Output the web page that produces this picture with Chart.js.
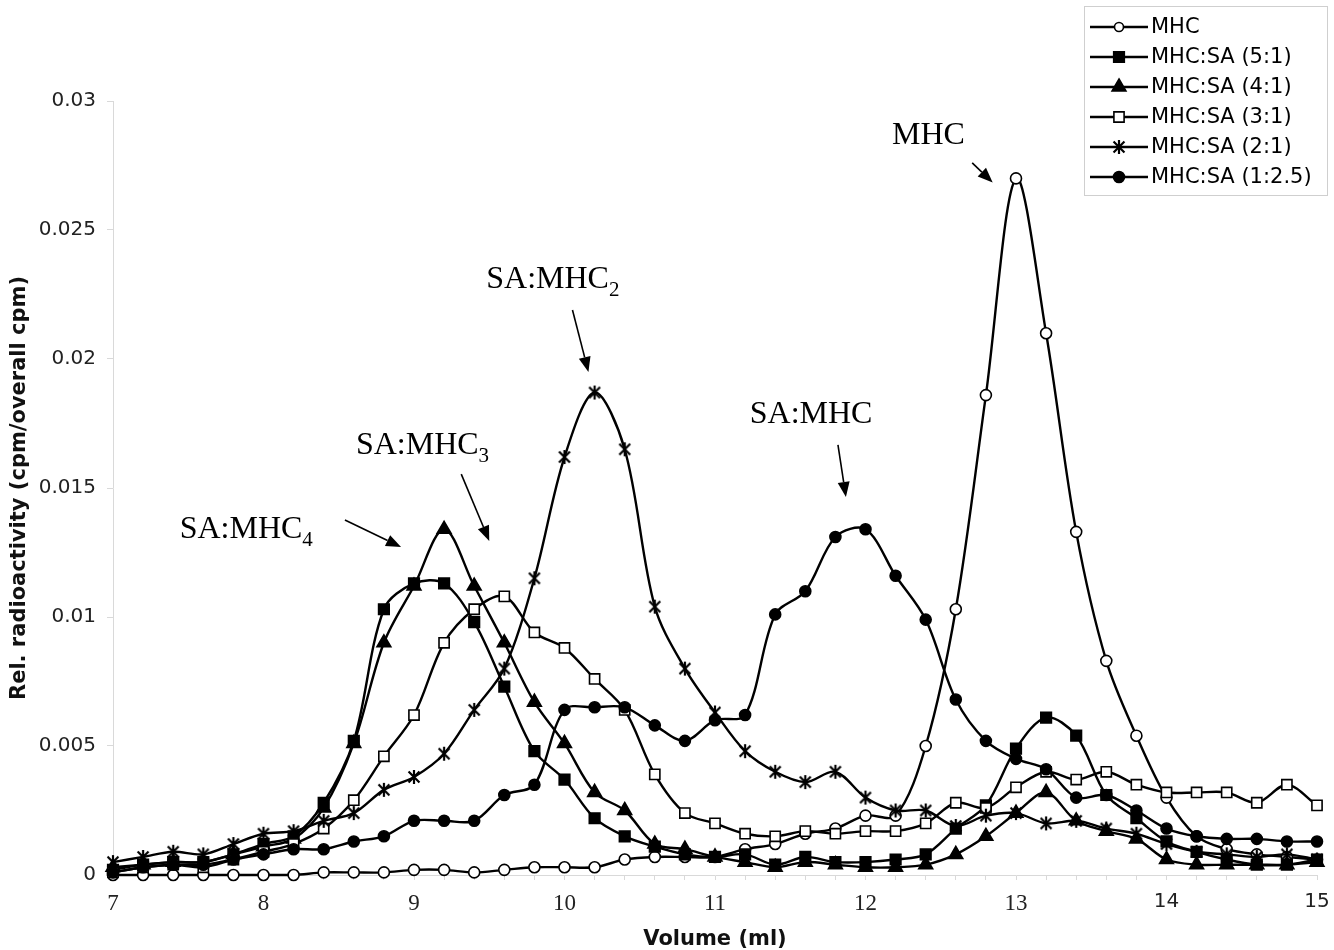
<!DOCTYPE html>
<html>
<head>
<meta charset="utf-8">
<script src="https://cdn.jsdelivr.net/npm/chart.js@4"></script>
<style>
html, body { margin: 0; padding: 0; background: #fff; }
#wrap { width: 1334px; height: 950px; }
</style>
</head>
<body>
<div id="wrap"><canvas id="chart" width="1334" height="950"></canvas></div>
<script>
// elution volume (ml), one fraction every 0.2 ml
const volumes = [7.0, 7.2, 7.4, 7.6, 7.8, 8.0, 8.2, 8.4, 8.6, 8.8, 9.0, 9.2, 9.4, 9.6, 9.8,
    10.0, 10.2, 10.4, 10.6, 10.8, 11.0, 11.2, 11.4, 11.6, 11.8, 12.0, 12.2, 12.4, 12.6, 12.8,
    13.0, 13.2, 13.4, 13.6, 13.8, 14.0, 14.2, 14.4, 14.6, 14.8, 15.0];

const seriesNames = ['MHC', 'MHC:SA (5:1)', 'MHC:SA (4:1)', 'MHC:SA (3:1)', 'MHC:SA (2:1)', 'MHC:SA (1:2.5)'];

const mhc = [0, 0, 0, 0, 0, 0, 0, 0.0001, 0.0001, 0.0001, 0.0002, 0.0002, 0.0001, 0.0002, 0.0003,
    0.0003, 0.0003, 0.0006, 0.0007, 0.0007, 0.0007, 0.0010, 0.0012, 0.0016, 0.0018, 0.0023, 0.0023,
    0.0050, 0.0103, 0.0186, 0.0270, 0.0210, 0.0133, 0.0083, 0.0054, 0.0030, 0.0015, 0.0010, 0.0008,
    0.0007, 0.0006];
const mhcSa51 = [0.0002, 0.0004, 0.0005, 0.0005, 0.0008, 0.0012, 0.0015, 0.0028, 0.0052, 0.0103,
    0.0113, 0.0113, 0.0098, 0.0073, 0.0048, 0.0037, 0.0022, 0.0015, 0.0011, 0.0008, 0.0007, 0.0008,
    0.0004, 0.0007, 0.0005, 0.0005, 0.0006, 0.0008, 0.0018, 0.0027, 0.0049, 0.0061, 0.0054, 0.0031,
    0.0022, 0.0013, 0.0009, 0.0006, 0.0004, 0.0004, 0.0006];
const mhcSa41 = [0.0003, 0.0004, 0.0005, 0.0005, 0.0008, 0.0011, 0.0014, 0.0026, 0.0051, 0.0090,
    0.0112, 0.0134, 0.0112, 0.0090, 0.0067, 0.0051, 0.0032, 0.0025, 0.0012, 0.0010, 0.0007, 0.0005,
    0.0003, 0.0005, 0.0004, 0.0003, 0.0003, 0.0004, 0.0008, 0.0015, 0.0024, 0.0032, 0.0021, 0.0017,
    0.0014, 0.0006, 0.0004, 0.0004, 0.0004, 0.0004, 0.0005];
const mhcSa31 = [0.0001, 0.0003, 0.0004, 0.0003, 0.0006, 0.0009, 0.0012, 0.0018, 0.0029, 0.0046,
    0.0062, 0.0090, 0.0103, 0.0108, 0.0094, 0.0088, 0.0076, 0.0064, 0.0039, 0.0024, 0.0020, 0.0016,
    0.0015, 0.0017, 0.0016, 0.0017, 0.0017, 0.0020, 0.0028, 0.0026, 0.0034, 0.0040, 0.0037, 0.0040,
    0.0035, 0.0032, 0.0032, 0.0032, 0.0028, 0.0035, 0.0027];
const mhcSa21 = [0.0005, 0.0007, 0.0009, 0.0008, 0.0012, 0.0016, 0.0017, 0.0021, 0.0024, 0.0033,
    0.0038, 0.0047, 0.0064, 0.0080, 0.0115, 0.0162, 0.0187, 0.0165, 0.0104, 0.0080, 0.0063, 0.0048,
    0.0040, 0.0036, 0.0040, 0.0030, 0.0025, 0.0025, 0.0019, 0.0023, 0.0024, 0.0020, 0.0021, 0.0018,
    0.0016, 0.0012, 0.0009, 0.0008, 0.0007, 0.0008, 0.0006];
const mhcSa125 = [0.0001, 0.0003, 0.0004, 0.0004, 0.0006, 0.0008, 0.0010, 0.0010, 0.0013, 0.0015,
    0.0021, 0.0021, 0.0021, 0.0031, 0.0035, 0.0064, 0.0065, 0.0065, 0.0058, 0.0052, 0.0060, 0.0062,
    0.0101, 0.0110, 0.0131, 0.0134, 0.0116, 0.0099, 0.0068, 0.0052, 0.0045, 0.0041, 0.0030, 0.0031,
    0.0025, 0.0018, 0.0015, 0.0014, 0.0014, 0.0013, 0.0013];

const yTicks = [0, 0.005, 0.01, 0.015, 0.02, 0.025, 0.03];

// peak labels: text, subscript, position of text (x, y) and arrow tail -> head
const peakLabels = [
    { text: 'MHC', sub: '', x: 12.176, y: 0.02833, from: [12.709, 0.0276], to: [12.845, 0.02684] },
    { text: 'SA:MHC', sub: '2', x: 9.48, y: 0.02275, from: [10.053, 0.0219], to: [10.159, 0.0195] },
    { text: 'SA:MHC', sub: '', x: 11.231, y: 0.01752, from: [11.817, 0.01667], to: [11.87, 0.01465] },
    { text: 'SA:MHC', sub: '3', x: 8.614, y: 0.01632, from: [9.314, 0.01554], to: [9.5, 0.01295] },
    { text: 'SA:MHC', sub: '4', x: 7.443, y: 0.01306, from: [8.541, 0.01376], to: [8.914, 0.01271] }
];

function makeAsterisk(size, lw) {
    const c = document.createElement('canvas');
    c.width = size;
    c.height = size;
    const g = c.getContext('2d');
    const m = size / 2, r = size / 2 - 1, d = r * 0.78;
    g.strokeStyle = '#000';
    g.lineWidth = lw;
    g.beginPath();
    g.moveTo(m, m - r); g.lineTo(m, m + r);
    g.moveTo(m - d, m - d); g.lineTo(m + d, m + d);
    g.moveTo(m + d, m - d); g.lineTo(m - d, m + d);
    g.stroke();
    return c;
}
const asterisk = makeAsterisk(16, 2.2);

const markers = [
    { pointStyle: 'circle', radius: 5.5, fill: '#fff' },
    { pointStyle: 'rect', radius: 7.5, fill: '#000' },
    { pointStyle: 'triangle', radius: 8, fill: '#000' },
    { pointStyle: 'rect', radius: 7.2, fill: '#fff' },
    { pointStyle: asterisk, radius: 8, fill: '#000' },
    { pointStyle: 'circle', radius: 5.5, fill: '#000' }
];

const allSeries = [mhc, mhcSa51, mhcSa41, mhcSa31, mhcSa21, mhcSa125];

const datasets = allSeries.map((values, i) => ({
    label: seriesNames[i],
    data: values.map((v, j) => ({ x: volumes[j], y: v })),
    borderColor: '#000',
    borderWidth: 2.4,
    tension: 0.33,
    pointStyle: markers[i].pointStyle,
    pointRadius: markers[i].radius,
    pointBackgroundColor: markers[i].fill,
    pointBorderColor: '#000',
    pointBorderWidth: 1.6,
    clip: false,
    order: allSeries.length - i
}));

function drawMarker(ctx, m, x, y) {
    ctx.save();
    ctx.fillStyle = m.fill;
    ctx.strokeStyle = '#000';
    ctx.lineWidth = 1.6;
    Chart.helpers.drawPoint(ctx, { pointStyle: m.pointStyle, radius: m.radius, rotation: 0, borderWidth: 1.6 }, x, y);
    ctx.restore();
}

const legendBox = {
    id: 'legendBox',
    afterDraw(chart) {
        const ctx = chart.ctx;
        const left = 1084, top = 6, right = 1327, bottom = 195;
        ctx.save();
        ctx.fillStyle = '#fff';
        ctx.fillRect(left, top, right - left, bottom - top);
        ctx.strokeStyle = '#cfcfcf';
        ctx.lineWidth = 1;
        ctx.strokeRect(left + 0.5, top + 0.5, right - left, bottom - top);
        ctx.font = '21px "DejaVu Sans"';
        ctx.textBaseline = 'middle';
        seriesNames.forEach((name, i) => {
            const y = 27 + i * 30;
            ctx.strokeStyle = '#000';
            ctx.lineWidth = 2.4;
            ctx.beginPath();
            ctx.moveTo(1090, y);
            ctx.lineTo(1148, y);
            ctx.stroke();
            const m = Object.assign({}, markers[i]);
            if (i === 0) m.radius = 4.5;
            drawMarker(ctx, m, 1119, y);
            ctx.fillStyle = '#000';
            ctx.fillText(name, 1151, y + 1);
        });
        ctx.restore();
    }
};

const peakText = {
    id: 'peakText',
    afterDatasetsDraw(chart) {
        const ctx = chart.ctx;
        const sx = chart.scales.x, sy = chart.scales.y;
        ctx.save();
        ctx.fillStyle = '#000';
        ctx.strokeStyle = '#000';
        ctx.textBaseline = 'alphabetic';
        peakLabels.forEach(p => {
            const x = sx.getPixelForValue(p.x), y = sy.getPixelForValue(p.y);
            ctx.font = '32px "Liberation Serif"';
            ctx.fillText(p.text, x, y);
            if (p.sub) {
                const w = ctx.measureText(p.text).width;
                ctx.font = '21px "Liberation Serif"';
                ctx.fillText(p.sub, x + w, y + 8);
            }
            const x0 = sx.getPixelForValue(p.from[0]), y0 = sy.getPixelForValue(p.from[1]);
            const x1 = sx.getPixelForValue(p.to[0]), y1 = sy.getPixelForValue(p.to[1]);
            const a = Math.atan2(y1 - y0, x1 - x0);
            const hl = 15, hw = 6;
            const bx = x1 - hl * Math.cos(a), by = y1 - hl * Math.sin(a);
            ctx.lineWidth = 1.6;
            ctx.beginPath();
            ctx.moveTo(x0, y0);
            ctx.lineTo(bx, by);
            ctx.stroke();
            ctx.beginPath();
            ctx.moveTo(x1, y1);
            ctx.lineTo(bx - hw * Math.sin(a), by + hw * Math.cos(a));
            ctx.lineTo(bx + hw * Math.sin(a), by - hw * Math.cos(a));
            ctx.closePath();
            ctx.fill();
        });
        ctx.restore();
    }
};

const ctx = document.getElementById('chart').getContext('2d');
new Chart(ctx, {
    type: 'line',
    data: { datasets: datasets },
    options: {
        responsive: false,
        animation: false,
        layout: { padding: { top: 101, right: 17, left: 0, bottom: 0 } },
        plugins: {
            legend: { display: false },
            tooltip: { enabled: false }
        },
        scales: {
            x: {
                type: 'linear',
                min: 7,
                max: 15,
                afterBuildTicks: (scale) => {
                    scale.ticks = volumes.map(v => ({ value: v }));
                },
                afterFit: (scale) => {
                    scale.height = 75;
                    scale.paddingRight = 0;
                    scale.paddingLeft = 0;
                },
                ticks: {
                    autoSkip: false,
                    maxRotation: 0,
                    padding: 10,
                    color: '#222',
                    callback: (v) => Math.abs(v - Math.round(v)) < 1e-6 ? String(Math.round(v)) : '',
                    font: (c) => (c.tick && c.tick.value >= 13.9)
                        ? { family: 'DejaVu Sans', size: 20 }
                        : { family: 'Liberation Serif', size: 23 }
                },
                grid: {
                    drawOnChartArea: false,
                    color: '#d9d9d9',
                    tickLength: 5
                },
                border: { color: '#d9d9d9', width: 1 },
                title: {
                    display: true,
                    text: 'Volume (ml)',
                    color: '#111',
                    font: { family: 'DejaVu Sans', size: 21, weight: 'bold', lineHeight: 1 },
                    padding: { top: 0, bottom: 0 }
                }
            },
            y: {
                min: 0,
                max: 0.03,
                afterBuildTicks: (scale) => {
                    scale.ticks = yTicks.map(v => ({ value: v }));
                },
                afterFit: (scale) => { scale.width = 113; },
                ticks: {
                    padding: 11,
                    color: '#222',
                    font: { family: 'DejaVu Sans', size: 20 },
                    callback: (v) => String(Number(v.toFixed(3)))
                },
                grid: {
                    drawOnChartArea: false,
                    color: '#d9d9d9',
                    tickLength: 6
                },
                border: { color: '#d9d9d9', width: 1 },
                title: {
                    display: true,
                    text: 'Rel. radioactivity (cpm/overall cpm)',
                    color: '#111',
                    font: { family: 'DejaVu Sans', size: 21, weight: 'bold', lineHeight: 1 },
                    padding: { top: 9, bottom: 0 }
                }
            }
        }
    },
    plugins: [peakText, legendBox]
});
</script>
</body>
</html>
